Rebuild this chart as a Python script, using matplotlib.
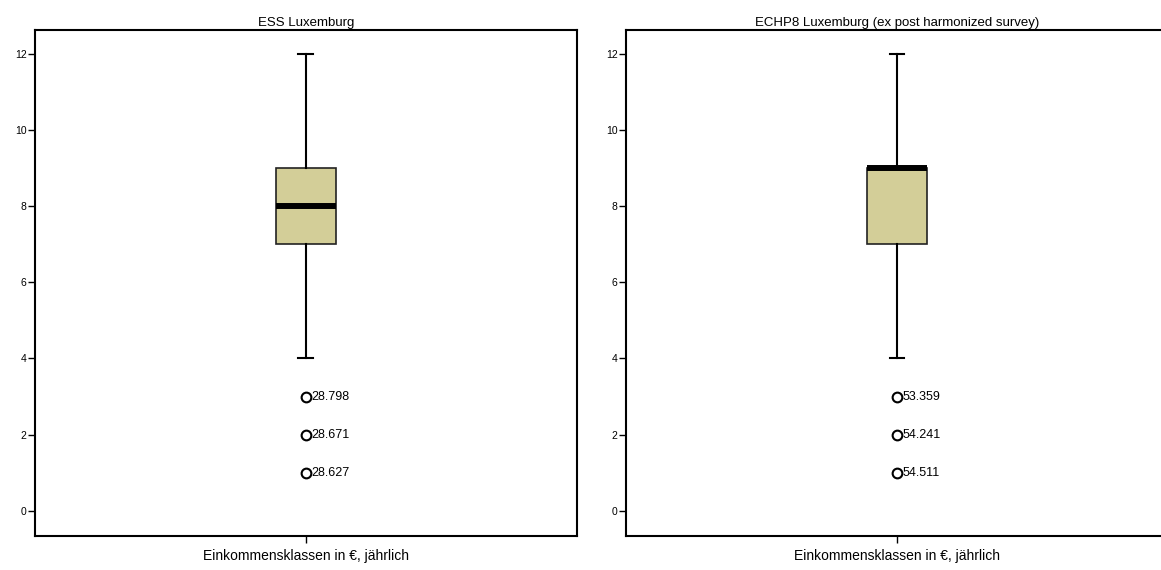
import matplotlib
matplotlib.use("Agg")
import matplotlib.pyplot as plt

plt.rcParams["font.family"] = ["Liberation Sans", "DejaVu Sans"]

# ── Data ───────────────────────────────────────────────────────────────────
titles = ["ESS Luxemburg", "ECHP8 Luxemburg (ex post harmonized survey)"]
xlabel = "Einkommensklassen in €, jährlich"
whislo = [4, 4]
q1 = [7, 7]
med = [8, 9]
q3 = [9, 9]
whishi = [12, 12]
outliers = [[3, 2, 1], [3, 2, 1]]
outlier_ids = [["28.798", "28.671", "28.627"], ["53.359", "54.241", "54.511"]]
yticks = [0, 2, 4, 6, 8, 10, 12]

BOX_COLOR = "#d3ce98"

fig = plt.figure(figsize=(11.61, 5.70), dpi=100)
positions = [[0.0301, 0.0596, 0.4668, 0.8877], [0.5392, 0.0596, 0.4668, 0.8877]]

for i in range(2):
    ax = fig.add_axes(positions[i])
    stats = [{
        "whislo": whislo[i], "q1": q1[i], "med": med[i], "q3": q3[i],
        "whishi": whishi[i], "fliers": outliers[i],
    }]
    ax.bxp(stats, positions=[1], widths=0.221, patch_artist=True,
           showfliers=True, manage_ticks=False,
           boxprops=dict(facecolor=BOX_COLOR, edgecolor="#222222", linewidth=1.2),
           medianprops=dict(color="black", linewidth=4.3, solid_capstyle="butt"),
           whiskerprops=dict(color="black", linewidth=1.5),
           capprops=dict(color="black", linewidth=1.5),
           capwidths=0.055,
           flierprops=dict(marker="o", markerfacecolor="white",
                           markeredgecolor="black", markersize=7,
                           markeredgewidth=1.5))
    for y, lab in zip(outliers[i], outlier_ids[i]):
        ax.annotate(lab, (1, y), xytext=(4, 0), textcoords="offset points",
                    ha="left", va="center", fontsize=9)

    ax.set_xlim(0, 2)
    ax.set_ylim(-0.66, 12.62)
    ax.set_yticks(yticks)
    ax.set_yticklabels([str(t) for t in yticks], fontsize=7.5)
    ax.set_xticks([1])
    ax.set_xticklabels([""])
    ax.tick_params(axis="both", direction="out", length=5, width=1, pad=1)
    for sp in ax.spines.values():
        sp.set_linewidth(1.5)
    ax.set_title(titles[i], fontsize=9.5, pad=3)
    ax.set_xlabel(xlabel, fontsize=10, labelpad=3)

plt.savefig("out.png", dpi=100)
